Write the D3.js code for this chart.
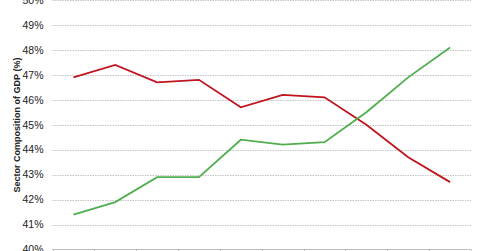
<!DOCTYPE html>
<html>
<head>
<meta charset="utf-8">
<script src="https://d3js.org/d3.v7.min.js"></script>
<style>
  body { margin: 0; background: #fff; }
  svg { display: block; font-family: "Liberation Sans", Arial, sans-serif; }
</style>
</head>
<body>
<svg id="chart" width="480" height="251"></svg>
<script>
var years = ["2005", "2006", "2007", "2008", "2009", "2010", "2011", "2012", "2013", "2014"];
var secondary = [46.9, 47.4, 46.7, 46.8, 45.7, 46.2, 46.1, 45.0, 43.7, 42.7];
var tertiary = [41.4, 41.9, 42.9, 42.9, 44.4, 44.2, 44.3, 45.5, 46.9, 48.1];
var yTicks = [40, 41, 42, 43, 44, 45, 46, 47, 48, 49, 50];

var svg = d3.select("#chart");

var x = d3.scaleBand()
        .domain(years)
        .range([52.5, 471]);

var y = d3.scaleLinear()
        .domain([40, 50])
        .range([249.5, 0]);

// dotted gridlines
svg.append("g")
    .selectAll("line")
    .data(yTicks.filter(function(d) { return d > 40; }))
    .enter().append("line")
    .attr("x1", x.range()[0])
    .attr("x2", x.range()[1])
    .attr("y1", function(d) { return Math.round(y(d)) + 0.5; })
    .attr("y2", function(d) { return Math.round(y(d)) + 0.5; })
    .attr("stroke", "#c4c4c4")
    .attr("stroke-dasharray", "1.5,1");

// y labels
svg.append("g")
    .selectAll("text")
    .data(yTicks)
    .enter().append("text")
    .attr("x", 43.5)
    .attr("y", function(d) { return y(d); })
    .attr("dy", "0.36em")
    .attr("text-anchor", "end")
    .attr("font-size", 10.5)
    .attr("fill", "#222")
    .text(function(d) { return d + "%"; });

// bottom axis with ticks at band edges
var xAxis = svg.append("g")
    .attr("transform", "translate(0," + (y(40)) + ")");

xAxis.append("line")
    .attr("x1", x.range()[0])
    .attr("x2", x.range()[1])
    .attr("stroke", "#bdbdbd");

xAxis.selectAll("line.tick")
    .data(years.concat(["end"]))
    .enter().append("line")
    .attr("class", "tick")
    .attr("x1", function(d, i) { return Math.round(i < years.length ? x(d) : x.range()[1]) + 0.5; })
    .attr("x2", function(d, i) { return Math.round(i < years.length ? x(d) : x.range()[1]) + 0.5; })
    .attr("y1", 0)
    .attr("y2", 5)
    .attr("stroke", "#bdbdbd");

// y axis title
svg.append("text")
    .attr("transform", "translate(19.5,125) rotate(-90)")
    .attr("text-anchor", "middle")
    .attr("font-size", 9)
    .attr("font-weight", "bold")
    .attr("fill", "#222")
    .text("Sector Composition of GDP (%)");

var line = d3.line()
    .x(function(d, i) { return x(years[i]) + x.bandwidth() / 2; })
    .y(function(d) { return y(d); });

svg.append("path")
    .datum(secondary)
    .attr("fill", "none")
    .attr("stroke", "#c0141e")
    .attr("stroke-width", 1.8)
    .attr("d", line);

svg.append("path")
    .datum(tertiary)
    .attr("fill", "none")
    .attr("stroke", "#4fae4f")
    .attr("stroke-width", 1.8)
    .attr("d", line);
</script>
</body>
</html>
